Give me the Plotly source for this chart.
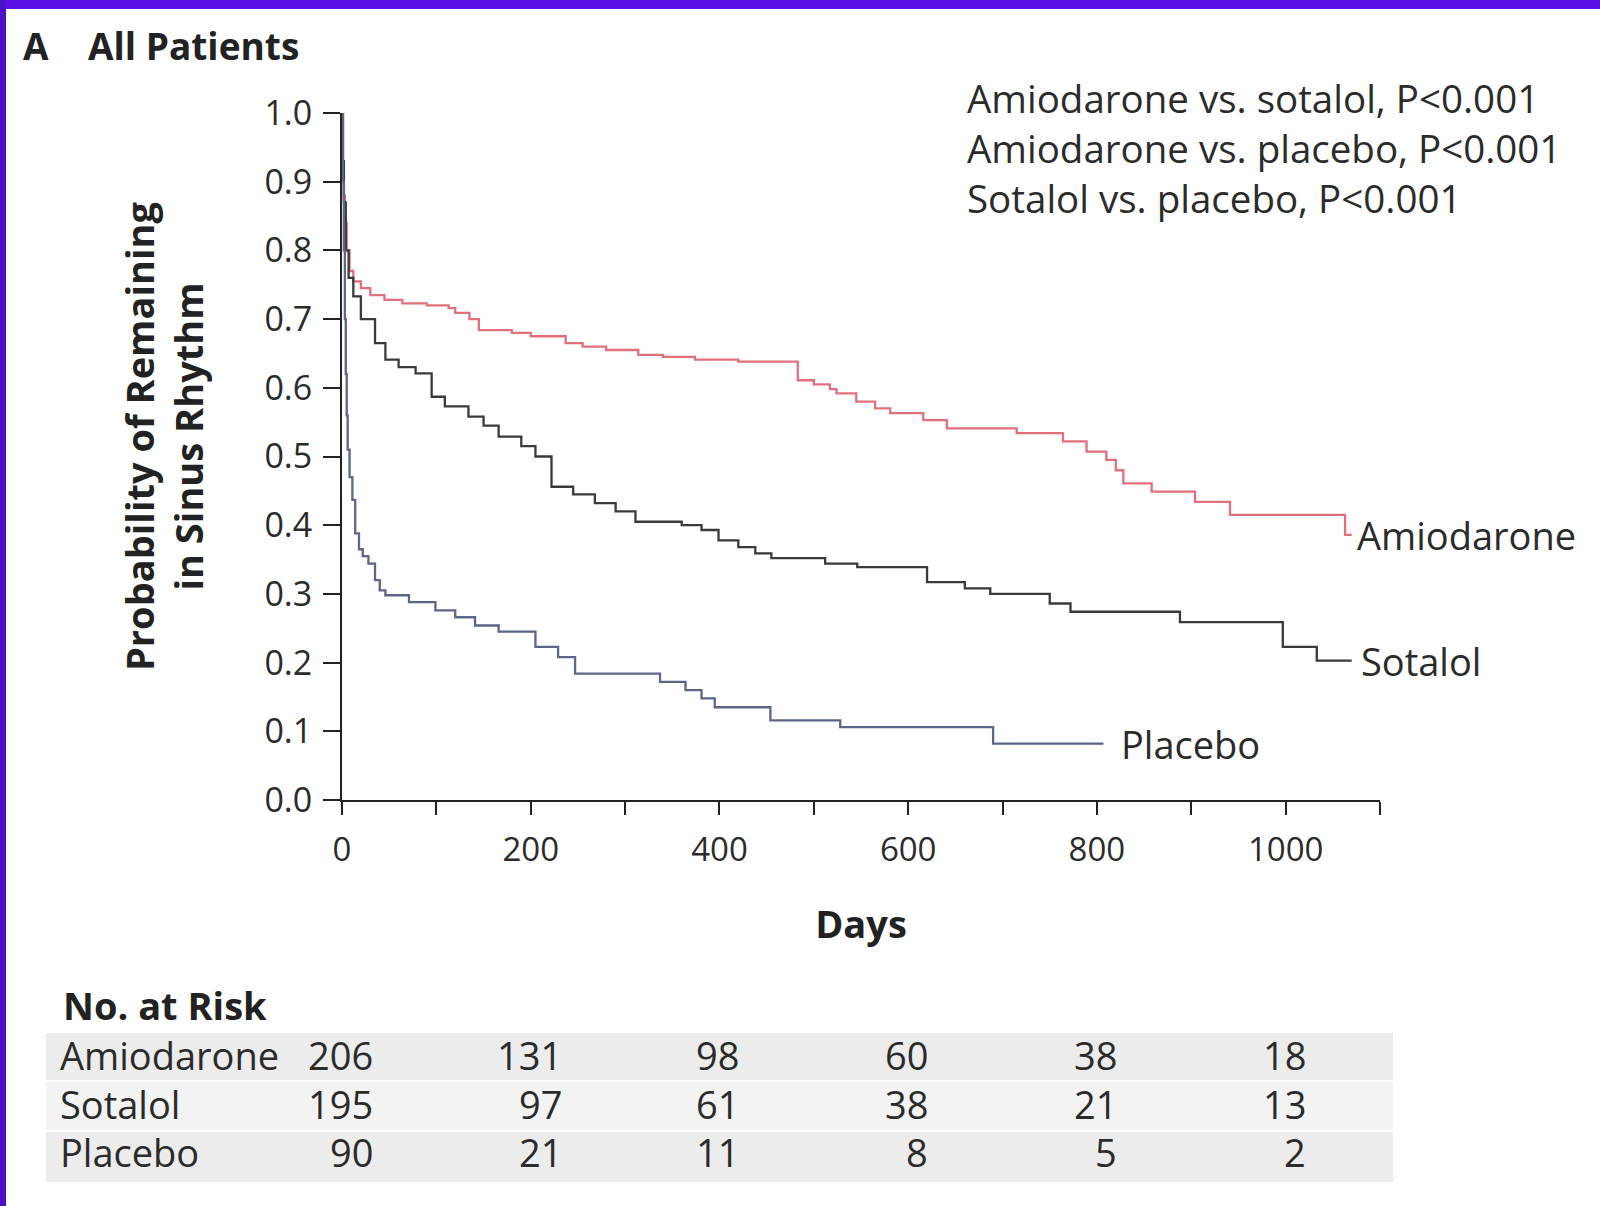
import plotly.graph_objects as go

# ---------------- data ----------------
amio_t = [0, 1, 2, 3, 5, 8, 12, 20, 30, 45, 64, 90, 113, 120, 135, 145, 180, 200, 237, 255,
          280, 314, 340, 374, 420, 483, 500, 517, 524, 545, 565, 581, 616, 641, 715, 764, 789,
          810, 820, 828, 858, 904, 941, 1063, 1070]
amio_s = [1.0, 0.93, 0.88, 0.84, 0.80, 0.77, 0.755, 0.745, 0.735, 0.728, 0.723, 0.72, 0.716,
          0.709, 0.70, 0.684, 0.68, 0.675, 0.665, 0.66, 0.655, 0.648, 0.645, 0.641, 0.638,
          0.611, 0.605, 0.598, 0.592, 0.58, 0.57, 0.563, 0.553, 0.541, 0.534, 0.522, 0.507,
          0.495, 0.48, 0.461, 0.449, 0.434, 0.415, 0.386, 0.386]

sot_t = [0, 1, 2, 4, 7, 12, 20, 35, 46, 60, 78, 95, 109, 134, 150, 166, 190, 205, 222, 245,
         268, 290, 311, 360, 381, 399, 420, 438, 455, 512, 546, 620, 660, 687, 750, 772, 888,
         997, 1033, 1070]
sot_s = [1.0, 0.93, 0.87, 0.80, 0.76, 0.733, 0.70, 0.665, 0.641, 0.63, 0.621, 0.587, 0.573,
         0.558, 0.545, 0.529, 0.515, 0.50, 0.456, 0.445, 0.432, 0.42, 0.405, 0.40, 0.393,
         0.378, 0.368, 0.359, 0.352, 0.344, 0.339, 0.317, 0.308, 0.30, 0.286, 0.274, 0.259,
         0.223, 0.203, 0.203]

plac_t = [0, 1, 2, 3, 4, 5, 6, 8, 11, 14, 18, 22, 28, 35, 40, 46, 71, 99, 120, 141, 166, 205,
          229, 247, 337, 364, 381, 395, 454, 528, 690, 807]
plac_s = [1.0, 0.9, 0.8, 0.7, 0.62, 0.56, 0.51, 0.47, 0.437, 0.388, 0.365, 0.355, 0.344, 0.32,
          0.305, 0.298, 0.288, 0.276, 0.266, 0.254, 0.245, 0.223, 0.208, 0.184, 0.172, 0.16,
          0.148, 0.135, 0.116, 0.106, 0.082, 0.082]

groups = ["Amiodarone", "Sotalol", "Placebo"]
risk_days = [0, 200, 400, 600, 800, 1000]
risk_amio = [206, 131, 98, 60, 38, 18]
risk_sot = [195, 97, 61, 38, 21, 13]
risk_plac = [90, 21, 11, 8, 5, 2]

x_tickvals = [0, 100, 200, 300, 400, 500, 600, 700, 800, 900, 1000, 1100]
x_ticktext = ["0", "", "200", "", "400", "", "600", "", "800", "", "1000", ""]
y_tickvals = [0.0, 0.1, 0.2, 0.3, 0.4, 0.5, 0.6, 0.7, 0.8, 0.9, 1.0]
y_ticktext = ["0.0", "0.1", "0.2", "0.3", "0.4", "0.5", "0.6", "0.7", "0.8", "0.9", "1.0"]

# ---------------- layout geometry (pixels) ----------------
W, H = 1600, 1206
L, R, T, B = 342, 1380, 113, 800
XMAX = 1100


def px_x(px):
    return (px - L) / (R - L)


def px_y(py):
    return (B - py) / (B - T)


def day_px(d):
    return L + d * (R - L) / XMAX


FONT = "Open Sans"
TXT = "#2b2b2b"
colors = {"Amiodarone": "#e2707c", "Sotalol": "#3a3a3a", "Placebo": "#5b6689"}

fig = go.Figure()
for name, t, s in [("Amiodarone", amio_t, amio_s), ("Sotalol", sot_t, sot_s),
                   ("Placebo", plac_t, plac_s)]:
    fig.add_trace(go.Scatter(x=t, y=s, mode="lines", line_shape="hv", name=name,
                             line=dict(color=colors[name], width=2.3),
                             showlegend=False, hoverinfo="skip"))

shapes = []
# purple frame
shapes.append(dict(type="rect", xref="paper", yref="paper", x0=px_x(0), x1=px_x(W),
                   y0=px_y(0), y1=px_y(9), fillcolor="#5a10e6", line_width=0, layer="above"))
shapes.append(dict(type="rect", xref="paper", yref="paper", x0=px_x(0), x1=px_x(6),
                   y0=px_y(0), y1=px_y(H), fillcolor="#4a14c4", line_width=0, layer="above"))
# risk table row backgrounds
row_bounds = [(1033, 1080), (1082, 1130), (1132, 1182)]
row_fill = ["#ececec", "#f3f3f3", "#ececec"]
for (y0, y1), fc in zip(row_bounds, row_fill):
    shapes.append(dict(type="rect", xref="paper", yref="paper", x0=px_x(46), x1=px_x(1393),
                       y0=px_y(y1), y1=px_y(y0), fillcolor=fc, line_width=0, layer="below"))

ann = []
# panel title
ann.append(dict(text="<b>A</b>", xref="paper", yref="paper", x=px_x(21), y=px_y(46),
                xanchor="left", yanchor="middle", showarrow=False,
                font=dict(family=FONT, size=37, color="#222")))
ann.append(dict(text="<b>All Patients</b>", xref="paper", yref="paper", x=px_x(86),
                y=px_y(46), xanchor="left", yanchor="middle", showarrow=False,
                font=dict(family=FONT, size=37, color="#222")))
# p-values
ann.append(dict(text="Amiodarone vs. sotalol, P&lt;0.001<br>Amiodarone vs. placebo, P&lt;0.001"
                     "<br>Sotalol vs. placebo, P&lt;0.001",
                xref="paper", yref="paper", x=px_x(965), y=px_y(148), xanchor="left",
                yanchor="middle", align="left", showarrow=False,
                font=dict(family=FONT, size=38.5, color=TXT)))
# y title
ann.append(dict(text="<b>Probability of Remaining<br>in Sinus Rhythm</b>", xref="paper",
                yref="paper", x=px_x(164), y=px_y(436), textangle=-90, xanchor="center",
                yanchor="middle", showarrow=False,
                font=dict(family=FONT, size=38, color="#222")))
# curve labels
label_pos = {"Amiodarone": (amio_t[-1], amio_s[-1]), "Sotalol": (sot_t[-1], sot_s[-1]),
             "Placebo": (plac_t[-1], plac_s[-1])}
label_gap = {"Amiodarone": 3, "Sotalol": 7, "Placebo": 15}
for g in groups:
    d, v = label_pos[g]
    ann.append(dict(text=g, xref="paper", yref="y", x=px_x(day_px(d) + label_gap[g]), y=v,
                    xanchor="left", yanchor="middle", showarrow=False,
                    font=dict(family=FONT, size=38, color=TXT)))
# risk table
ann.append(dict(text="<b>No. at Risk</b>", xref="paper", yref="paper", x=px_x(61),
                y=px_y(1005), xanchor="left", yanchor="middle", showarrow=False,
                font=dict(family=FONT, size=38, color="#222")))
row_centers = [1055, 1104, 1152]
risk_rows = [risk_amio, risk_sot, risk_plac]
DIGIT_W = 22
for g, yc, vals in zip(groups, row_centers, risk_rows):
    ann.append(dict(text=g, xref="paper", yref="paper", x=px_x(58), y=px_y(yc),
                    xanchor="left", yanchor="middle", showarrow=False,
                    font=dict(family=FONT, size=38, color=TXT)))
for j, d in enumerate(risk_days):
    ndig = max(len(str(r[j])) for r in risk_rows)
    xr = day_px(d) + ndig * DIGIT_W / 2
    for yc, vals in zip(row_centers, risk_rows):
        ann.append(dict(text=str(vals[j]), xref="paper", yref="paper", x=px_x(xr),
                        y=px_y(yc), xanchor="right", yanchor="middle", showarrow=False,
                        font=dict(family=FONT, size=38, color=TXT)))

fig.update_layout(
    width=W, height=H, autosize=False,
    margin=dict(l=L, r=W - R, t=T, b=H - B, pad=0),
    paper_bgcolor="white", plot_bgcolor="white",
    shapes=shapes, annotations=ann,
    xaxis=dict(range=[0, XMAX], tickvals=x_tickvals, ticktext=x_ticktext,
               showgrid=False, zeroline=False, showline=True, linecolor="#222", linewidth=2,
               ticks="outside", ticklen=13, tickwidth=2, tickcolor="#222",
               tickfont=dict(family=FONT, size=33, color=TXT), ticklabelstandoff=6,
               title=dict(text="<b>Days</b>", font=dict(family=FONT, size=38, color="#222"),
                          standoff=42)),
    yaxis=dict(range=[0, 1.0], tickvals=y_tickvals, ticktext=y_ticktext,
               showgrid=False, zeroline=False, showline=True, linecolor="#222", linewidth=2,
               ticks="outside", ticklen=17, tickwidth=2, tickcolor="#222",
               tickfont=dict(family=FONT, size=34, color=TXT), ticklabelstandoff=4),
)

fig.write_html("out.html", post_script="document.body.style.margin='0';",
               config={"displayModeBar": False})
